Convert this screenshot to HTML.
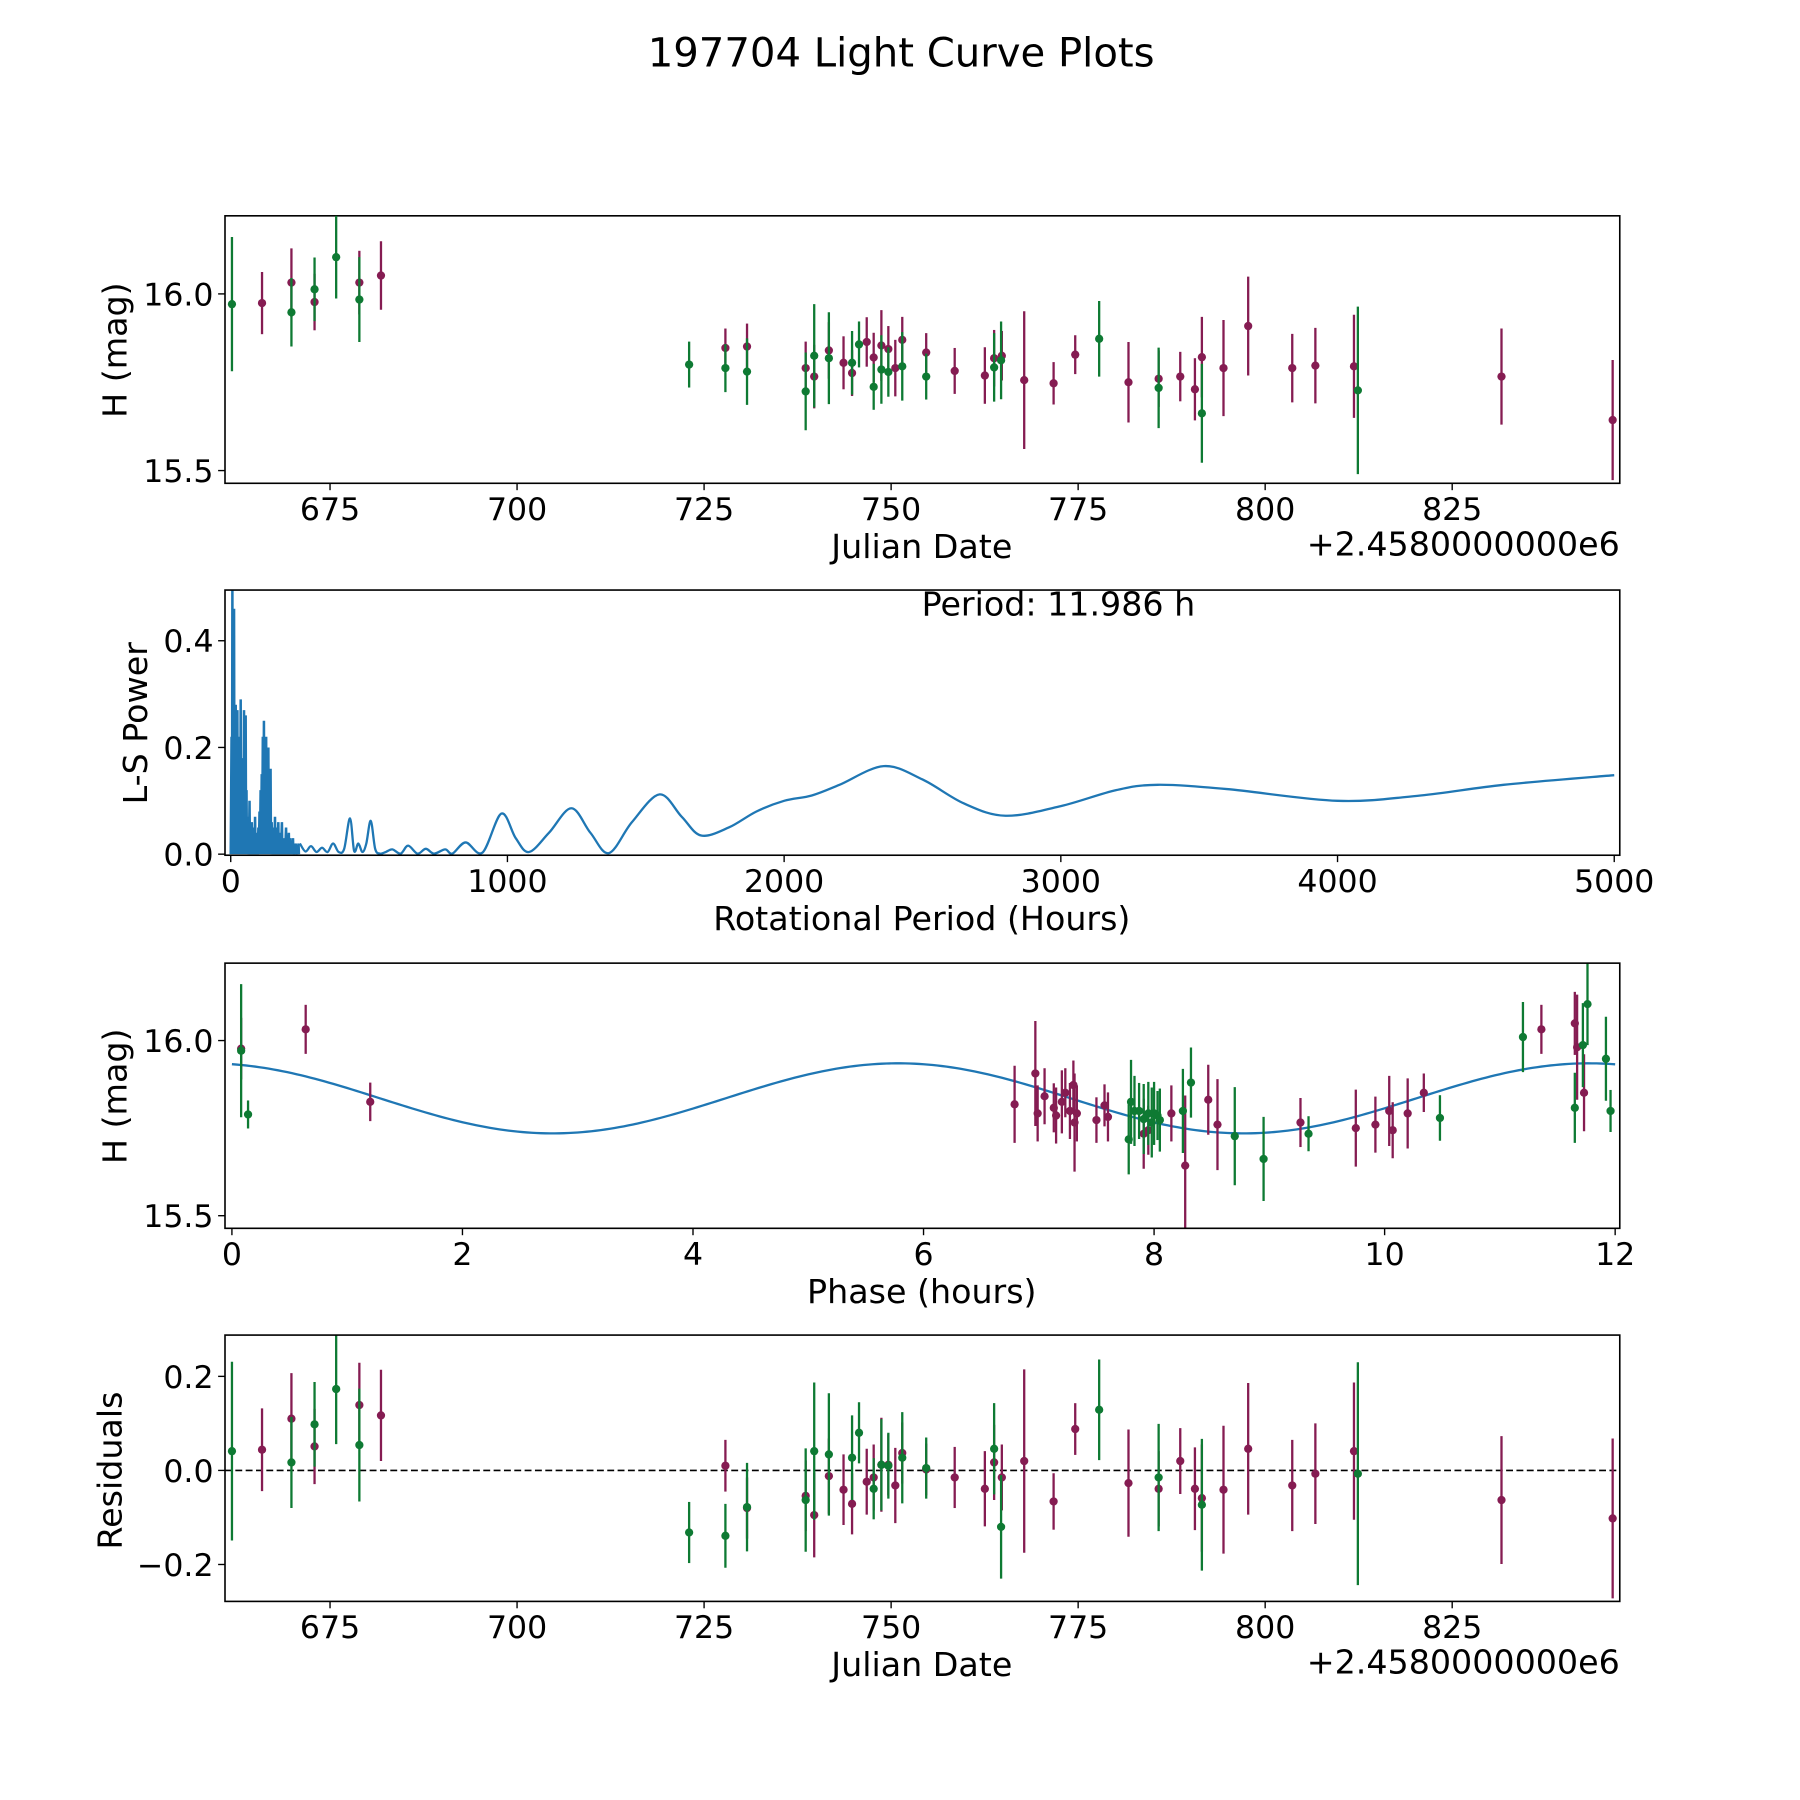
<!DOCTYPE html>
<html><head><meta charset="utf-8"><style>
html,body{margin:0;padding:0;background:#fff;}
svg{display:block;font-family:"DejaVu Sans","Liberation Sans",sans-serif;}
</style></head><body>
<svg id="fig" width="1800" height="1800" viewBox="0 0 1568 1568" xmlns="http://www.w3.org/2000/svg">
<text x="785" y="58" font-size="35" text-anchor="middle">197704 Light Curve Plots</text>
</svg>
<script>
// ---- Panel 1 / 4 data (Julian date offset by 2458000) ----
const greenDates = [661.89,669.84,672.93,675.82,678.92,723.00,727.85,730.74,738.58,739.72,741.68,744.78,745.71,747.67,748.70,749.63,751.49,754.69,763.77,764.70,777.81,785.76,791.54,812.39];
const greenH = [15.971,15.948,16.013,16.104,15.984,15.80,15.79,15.78,15.724,15.825,15.818,15.805,15.857,15.737,15.786,15.779,15.795,15.766,15.792,15.812,15.873,15.734,15.662,15.727];
const greenErr = [0.19,0.097,0.09,0.117,0.12,0.065,0.068,0.094,0.11,0.146,0.13,0.09,0.065,0.065,0.097,0.07,0.097,0.065,0.097,0.11,0.107,0.114,0.14,0.237];
const greenRes = [0.041,0.017,0.098,0.173,0.054,-0.132,-0.139,-0.078,-0.063,0.041,0.034,0.027,0.08,-0.039,0.012,0.01,0.027,0.005,0.046,-0.12,0.129,-0.015,-0.073,-0.007];
const purpleDates = [665.91,669.84,672.93,678.92,681.81,727.85,730.74,738.58,739.72,741.68,743.64,744.78,746.74,747.67,748.70,749.63,750.56,751.49,754.69,758.50,762.53,763.77,764.80,767.79,771.72,774.61,781.73,785.76,788.65,790.61,791.54,794.43,797.73,803.62,806.71,811.87,831.59,846.45];
const purpleH = [15.974,16.032,15.977,16.032,16.052,15.847,15.851,15.79,15.766,15.84,15.805,15.776,15.864,15.82,15.854,15.844,15.79,15.87,15.834,15.782,15.769,15.818,15.825,15.756,15.747,15.828,15.75,15.76,15.766,15.73,15.821,15.79,15.909,15.79,15.797,15.795,15.766,15.643];
const purpleErr = [0.088,0.097,0.08,0.09,0.097,0.055,0.065,0.075,0.09,0.08,0.075,0.065,0.07,0.07,0.1,0.065,0.08,0.065,0.055,0.065,0.08,0.08,0.07,0.195,0.06,0.055,0.114,0.08,0.07,0.088,0.114,0.136,0.14,0.097,0.107,0.146,0.136,0.17];
const purpleRes = [0.044,0.11,0.051,0.139,0.117,0.01,-0.08,-0.054,-0.095,-0.012,-0.041,-0.071,-0.024,-0.015,0.012,0.012,-0.032,0.037,0.002,-0.015,-0.039,0.017,-0.015,0.02,-0.066,0.088,-0.027,-0.039,0.02,-0.039,-0.059,-0.041,0.046,-0.032,-0.007,0.041,-0.063,-0.102];
// ---- Panel 3 phase-folded data ----
const purplePhase = [0.08,0.64,1.20,6.79,6.97,6.99,7.05,7.13,7.15,7.20,7.23,7.27,7.30,7.31,7.33,7.50,7.57,7.60,7.91,7.95,8.15,8.27,8.47,8.55,9.27,9.75,9.92,10.04,10.07,10.20,10.34,11.36,11.65,11.67,11.73];
const purplePhaseH = [15.977,16.032,15.825,15.818,15.906,15.792,15.841,15.808,15.786,15.825,15.851,15.799,15.873,15.766,15.792,15.773,15.815,15.782,15.734,15.744,15.792,15.643,15.831,15.76,15.766,15.75,15.76,15.799,15.744,15.792,15.851,16.032,16.049,15.981,15.851];
const purplePhaseErr = [0.088,0.07,0.055,0.11,0.15,0.08,0.08,0.07,0.08,0.09,0.07,0.08,0.07,0.14,0.08,0.065,0.06,0.07,0.1,0.07,0.08,0.2,0.1,0.13,0.07,0.11,0.08,0.1,0.08,0.1,0.055,0.07,0.09,0.15,0.11];
const greenPhase = [0.08,0.14,7.78,7.80,7.83,7.87,7.91,7.95,7.98,8.00,8.03,8.05,8.25,8.32,8.70,8.95,9.34,10.48,11.20,11.65,11.72,11.76,11.92,11.96];
const greenPhaseH = [15.971,15.789,15.718,15.825,15.799,15.799,15.776,15.792,15.766,15.792,15.786,15.773,15.799,15.88,15.727,15.662,15.734,15.779,16.01,15.808,15.987,16.104,15.948,15.799];
const greenPhaseErr = [0.19,0.04,0.1,0.12,0.1,0.08,0.1,0.09,0.1,0.09,0.07,0.09,0.12,0.1,0.14,0.12,0.05,0.065,0.1,0.1,0.12,0.117,0.12,0.06];
const fitMean = 15.835, fitAmp = 0.1, fitPeakPhase = 5.78, fitPeriod = 5.993;
// ---- Panel 2 periodogram ----
const spikePeriods = [3,6,9,12,15,18,21,24,27,30,33,36,39,42,45,48,51,54,57,60,64,68,72,76,80,84,88,92,96,100,104,108,112,116,120,124,128,132,136,140,144,148,152,156,160,164,168,172,176,180,185,190,195,200,205,210,215,220,225,230,235,240,245];
const spikePowers = [0.22,0.5,0.3,0.46,0.2,0.28,0.25,0.27,0.19,0.22,0.1,0.29,0.14,0.18,0.08,0.27,0.06,0.26,0.12,0.07,0.05,0.1,0.04,0.06,0.03,0.05,0.07,0.04,0.03,0.05,0.08,0.12,0.15,0.22,0.25,0.19,0.22,0.12,0.2,0.1,0.16,0.06,0.05,0.04,0.07,0.03,0.05,0.06,0.03,0.04,0.06,0.02,0.03,0.05,0.02,0.04,0.03,0.02,0.03,0.015,0.02,0.01,0.02];
const smoothPeriods = [250,270,290,310,330,350,370,390,410,431,446,461,476,490,506,522,539,560,584,614,641,675,705,735,775,801,849,910,978,1030,1078,1150,1231,1300,1367,1450,1550,1630,1700,1800,1900,2000,2100,2200,2360,2500,2650,2800,3000,3200,3350,3600,4000,4300,4600,5000];
const smoothPowers = [0.02,0.005,0.015,0.004,0.012,0.004,0.02,0.004,0.01,0.067,0.006,0.02,0.004,0.02,0.0625,0.01,0.001,0.004,0.009,0.001,0.016,0.001,0.01,0.001,0.009,0.001,0.022,0.003,0.076,0.03,0.004,0.04,0.086,0.04,0.002,0.06,0.112,0.07,0.035,0.05,0.08,0.1,0.11,0.13,0.165,0.14,0.095,0.072,0.09,0.12,0.13,0.122,0.1,0.11,0.13,0.148];

const SVG = 'http://www.w3.org/2000/svg';
const fig = document.getElementById('fig');
const PURPLE = '#851c52', GREEN = '#0e7a33', BLUE = '#1f77b4';
const TICK_FS = 27.5, LABEL_FS = 29;
function mk(tag, attrs, parent) {
  const e = document.createElementNS(SVG, tag);
  for (const k in attrs) e.setAttribute(k, attrs[k]);
  (parent || fig).appendChild(e);
  return e;
}
function makeAxis(name, left, top, right, bottom, x0, x1, y0, y1) {
  const g = mk('g', {});
  
  
  return {g, left, top, right, bottom,
    sx: v => left + (v - x0) / (x1 - x0) * (right - left),
    sy: v => bottom - (v - y0) / (y1 - y0) * (bottom - top)};
}
function frame(ax) {
  const r = mk('rect', {x: ax.left, y: ax.top, width: ax.right - ax.left, height: ax.bottom - ax.top, fill: 'none', stroke: '#000', 'stroke-width': 1.4}, ax.g);
  
  
}
function xticks(ax, vals, labels) {
  vals.forEach((v, i) => {
    const x = ax.sx(v);
    mk('line', {x1: x, x2: x, y1: ax.bottom, y2: ax.bottom + 6, stroke: '#000', 'stroke-width': 1.2}, ax.g);
    const t = mk('text', {x: x, y: ax.bottom + 32, 'font-size': TICK_FS, 'text-anchor': 'middle'}, ax.g);
    t.textContent = labels[i];
    
    
  });
}
function yticks(ax, vals, labels) {
  vals.forEach((v, i) => {
    const y = ax.sy(v);
    mk('line', {x1: ax.left - 6, x2: ax.left, y1: y, y2: y, stroke: '#000', 'stroke-width': 1.2}, ax.g);
    const t = mk('text', {x: ax.left - 10, y: y + 10, 'font-size': TICK_FS, 'text-anchor': 'end'}, ax.g);
    t.textContent = labels[i];
    
    
  });
}
function label(ax, txt, x, y, rot, nm) {
  const t = mk('text', {x: x, y: y, 'font-size': LABEL_FS, 'text-anchor': 'middle'}, ax.g);
  if (rot) t.setAttribute('transform', `rotate(-90 ${x} ${y})`);
  t.textContent = txt;
  
  
}
function errpts(ax, xs, ys, es, color, nm) {
  const g = mk('g', {}, ax.g);
  
  
  xs.forEach((xv, i) => {
    const x = ax.sx(xv);
    const y1 = Math.max(ax.top, ax.sy(ys[i] + es[i])), y2 = Math.min(ax.bottom, ax.sy(ys[i] - es[i]));
    mk('line', {x1: x, x2: x, y1: y1, y2: y2, stroke: color, 'stroke-width': 2}, g);
    const y = ax.sy(ys[i]);
    if (y >= ax.top - 1 && y <= ax.bottom + 1) {
      const c = mk('circle', {cx: x, cy: y, r: 3.6, fill: color}, g);
      
      
    }
  });
}
function clip(ax, id) {
  const d = mk('clipPath', {id: id});
  mk('rect', {x: ax.left, y: ax.top, width: ax.right - ax.left, height: ax.bottom - ax.top}, d);
}
function offsetText(ax, y) {
  const o = mk('text', {x: 1411, y: y, 'font-size': LABEL_FS, 'text-anchor': 'end'}, ax.g);
  o.textContent = '+2.4580000000e6';
  
  
}

// Panel 1
const a1 = makeAxis('light-curve-panel', 196, 188, 1411, 421, 660.96, 847.4, 15.464, 16.221);
frame(a1);
xticks(a1, [675,700,725,750,775,800,825], ['675','700','725','750','775','800','825']);
yticks(a1, [15.5,16.0], ['15.5','16.0']);
errpts(a1, purpleDates, purpleH, purpleErr, PURPLE, 'purple-series');
errpts(a1, greenDates, greenH, greenErr, GREEN, 'green-series');
label(a1, 'Julian Date', 803, 486, false, 'x-axis-title');
label(a1, 'H (mag)', 110, 305, true, 'y-axis-title');
offsetText(a1, 484);

// Panel 2
const a2 = makeAxis('periodogram-panel', 196, 514, 1411, 745, -20.7, 5020, -0.002, 0.495);
clip(a2, 'c2');
const lg = mk('g', {'clip-path': 'url(#c2)'}, a2.g);
let d = `M${a2.sx(0)},${a2.sy(0)}`;
spikePeriods.forEach((p, i) => {
  d += ` L${a2.sx(p)},${a2.sy(spikePowers[i])} L${a2.sx(p + 1.5)},${a2.sy(0)}`;
});
const np = mk('path', {d: d, fill: 'none', stroke: BLUE, 'stroke-width': 2.2}, lg);


const P = smoothPeriods.map((p, i) => [a2.sx(p), a2.sy(smoothPowers[i])]);
let s = `M${P[0][0]},${P[0][1]}`;
for (let i = 0; i < P.length - 1; i++) {
  const p0 = P[Math.max(0, i - 1)], p1 = P[i], p2 = P[i + 1], p3 = P[Math.min(P.length - 1, i + 2)];
  s += ` C${p1[0] + (p2[0] - p0[0]) / 6},${p1[1] + (p2[1] - p0[1]) / 6} ${p2[0] - (p3[0] - p1[0]) / 6},${p2[1] - (p3[1] - p1[1]) / 6} ${p2[0]},${p2[1]}`;
}
const sp = mk('path', {d: s, fill: 'none', stroke: BLUE, 'stroke-width': 2}, lg);


frame(a2);
xticks(a2, [0,1000,2000,3000,4000,5000], ['0','1000','2000','3000','4000','5000']);
yticks(a2, [0,0.2,0.4], ['0.0','0.2','0.4']);
label(a2, 'Rotational Period (Hours)', 803, 810, false, 'x-axis-title');
label(a2, 'L-S Power', 128, 630, true, 'y-axis-title');
label(a2, 'Period: 11.986 h', 922, 536, false, 'period-annotation');

// Panel 3
const a3 = makeAxis('phase-folded-panel', 196, 839, 1411, 1070, -0.06, 12.04, 15.464, 16.221);
clip(a3, 'c3');
const fg = mk('g', {'clip-path': 'url(#c3)'}, a3.g);
let f = '';
for (let i = 0; i <= 300; i++) {
  const ph = i / 300 * 12;
  const h = fitMean + fitAmp * Math.cos(2 * Math.PI * (ph - fitPeakPhase) / fitPeriod);
  f += (i ? ' L' : 'M') + a3.sx(ph) + ',' + a3.sy(h);
}
const fl = mk('path', {d: f, fill: 'none', stroke: BLUE, 'stroke-width': 2}, fg);


errpts(a3, purplePhase, purplePhaseH, purplePhaseErr, PURPLE, 'purple-phase-series');
errpts(a3, greenPhase, greenPhaseH, greenPhaseErr, GREEN, 'green-phase-series');
frame(a3);
xticks(a3, [0,2,4,6,8,10,12], ['0','2','4','6','8','10','12']);
yticks(a3, [15.5,16.0], ['15.5','16.0']);
label(a3, 'Phase (hours)', 803, 1135, false, 'x-axis-title');
label(a3, 'H (mag)', 110, 955, true, 'y-axis-title');

// Panel 4
const a4 = makeAxis('residuals-panel', 196, 1163, 1411, 1395, 660.96, 847.4, -0.2785, 0.2878);
const zl = mk('line', {x1: a4.left, x2: a4.right, y1: a4.sy(0), y2: a4.sy(0), stroke: '#000', 'stroke-width': 1.5, 'stroke-dasharray': '6,3'}, a4.g);


errpts(a4, purpleDates, purpleRes, purpleErr, PURPLE, 'purple-residuals');
errpts(a4, greenDates, greenRes, greenErr, GREEN, 'green-residuals');
frame(a4);
xticks(a4, [675,700,725,750,775,800,825], ['675','700','725','750','775','800','825']);
yticks(a4, [-0.2,0,0.2], ['\u22120.2','0.0','0.2']);
label(a4, 'Julian Date', 803, 1460, false, 'x-axis-title');
label(a4, 'Residuals', 106, 1281, true, 'y-axis-title');
offsetText(a4, 1458);
</script>
</body></html>
